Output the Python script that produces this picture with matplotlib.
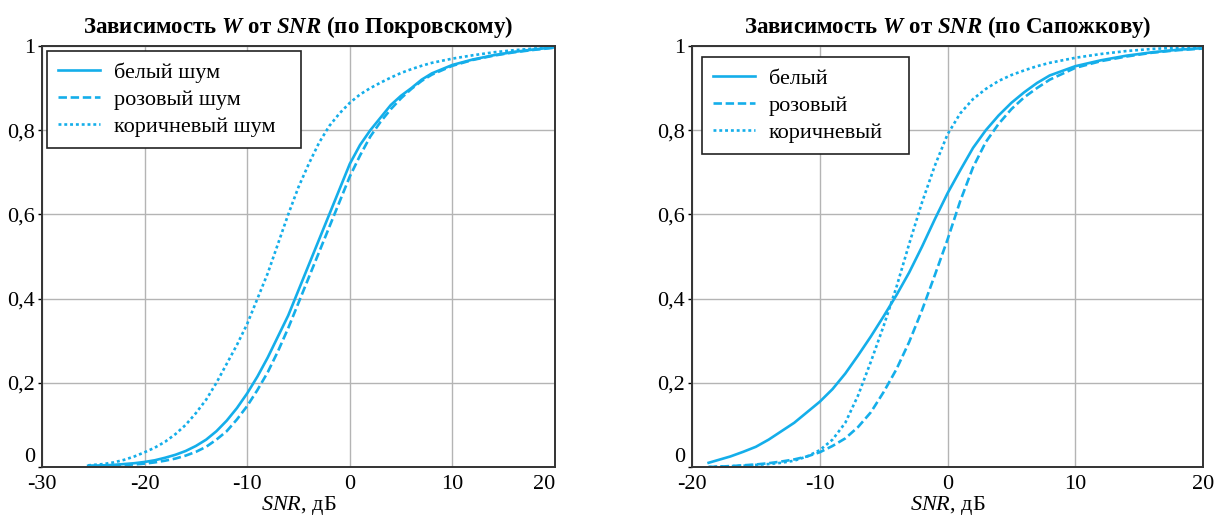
import numpy as np
import matplotlib
matplotlib.use("Agg")
import matplotlib.pyplot as plt
from matplotlib.ticker import FuncFormatter

plt.rcParams['font.family'] = ['Liberation Serif', 'DejaVu Serif']
plt.rcParams['mathtext.fontset'] = 'custom'
plt.rcParams['mathtext.rm'] = 'Liberation Serif'
plt.rcParams['mathtext.it'] = 'Liberation Serif:italic'
plt.rcParams['mathtext.bf'] = 'Liberation Serif:bold:italic'
plt.rcParams['axes.unicode_minus'] = False

# W(SNR) по Покровскому
snr_pokr = [-25.5, -24, -23, -22, -21, -20, -19, -18, -17, -16, -15, -14, -13, -12,
            -11, -10, -9, -8, -7, -6, -5, -4, -3, -2, -1, 0, 1, 2, 3, 4, 5, 6, 7, 8,
            10, 12, 14, 16, 18, 20]
white_pokr = [0.003, 0.004, 0.005, 0.007, 0.009, 0.012, 0.016, 0.022, 0.029, 0.038,
              0.05, 0.065, 0.085, 0.11, 0.14, 0.175, 0.215, 0.26, 0.31, 0.36,
              0.42, 0.48, 0.54, 0.60, 0.66, 0.72, 0.765, 0.80, 0.83, 0.86,
              0.882, 0.90, 0.92, 0.935, 0.955, 0.968, 0.978, 0.986, 0.992, 0.997]
pink_pokr = [0.002, 0.003, 0.004, 0.005, 0.006, 0.008, 0.011, 0.015, 0.02, 0.027,
             0.036, 0.048, 0.065, 0.085, 0.113, 0.145, 0.183, 0.225, 0.275, 0.33,
             0.39, 0.45, 0.51, 0.57, 0.63, 0.69, 0.74, 0.785, 0.82, 0.85,
             0.876, 0.898, 0.917, 0.932, 0.953, 0.967, 0.977, 0.985, 0.991, 0.996]
brown_pokr = [0.004, 0.007, 0.011, 0.017, 0.025, 0.035, 0.046, 0.06, 0.078, 0.10,
              0.128, 0.16, 0.20, 0.245, 0.29, 0.34, 0.40, 0.46, 0.53, 0.60,
              0.665, 0.72, 0.77, 0.81, 0.84, 0.865, 0.885, 0.90, 0.913, 0.925,
              0.936, 0.945, 0.953, 0.96, 0.97, 0.978, 0.985, 0.99, 0.994, 0.998]

# W(SNR) по Сапожкову
snr_sap = [-18.7, -17, -16, -15, -14, -13, -12, -11, -10, -9, -8, -7, -6, -5, -4,
           -3, -2, -1, 0, 1, 2, 3, 4, 5, 6, 7, 8, 10, 12, 14, 16, 18, 20]
white_sap = [0.01, 0.025, 0.036, 0.048, 0.065, 0.085, 0.105, 0.13, 0.155, 0.185,
             0.222, 0.265, 0.31, 0.358, 0.408, 0.462, 0.523, 0.588, 0.65, 0.705,
             0.758, 0.80, 0.835, 0.865, 0.89, 0.912, 0.93,
             0.952, 0.966, 0.977, 0.985, 0.991, 0.995]
pink_sap = [0.0, 0.002, 0.004, 0.006, 0.009, 0.013, 0.018, 0.025, 0.035, 0.05,
            0.068, 0.095, 0.13, 0.178, 0.232, 0.297, 0.372, 0.455, 0.54, 0.632,
            0.712, 0.772, 0.815, 0.85, 0.878, 0.9, 0.92,
            0.948, 0.964, 0.975, 0.984, 0.99, 0.994]
brown_sap = [0.0, 0.002, 0.003, 0.005, 0.007, 0.01, 0.015, 0.025, 0.04, 0.065,
             0.105, 0.17, 0.25, 0.335, 0.427, 0.53, 0.628, 0.715, 0.79, 0.84,
             0.874, 0.898, 0.917, 0.931, 0.942, 0.952, 0.96,
             0.972, 0.981, 0.988, 0.993, 0.996, 0.998]

labels_pokr = ['белый шум', 'розовый шум', 'коричневый шум']
labels_sap = ['белый', 'розовый', 'коричневый']

color = '#14aeea'
styles = ['-', (0, (3.2, 1.4)), (0, (1.1, 1.1))]


def yfmt(v, pos):
    if abs(v) < 1e-9:
        return '0'
    if abs(v - 1) < 1e-9:
        return '1'
    return ('%.1f' % v).replace('.', ',')


def setup(ax, xlim, xticks):
    ax.set_xlim(*xlim)
    ax.set_ylim(0, 1)
    ax.set_xticks(xticks)
    ax.set_yticks([0, 0.2, 0.4, 0.6, 0.8, 1.0])
    ax.yaxis.set_major_formatter(FuncFormatter(yfmt))
    ax.grid(True, color='#b4b4b4', lw=1)
    ax.set_axisbelow(True)
    for s in ax.spines.values():
        s.set_color('#333333')
        s.set_linewidth(1.4)
    ax.tick_params(axis='y', length=3, width=1, pad=2, labelsize=16)
    ax.tick_params(axis='x', length=0, pad=6, labelsize=16)
    ax.set_xlabel(r'$\mathit{SNR}$, дБ', fontsize=16, labelpad=0)
    # zero label sits on the axis line so it clears the x tick labels
    fig.canvas.draw()
    ax.get_yticklabels()[0].set_va('bottom')


fig = plt.figure(figsize=(12.17, 5.21), dpi=100)
ax1 = fig.add_axes([42 / 1217, 54 / 521, 513 / 1217, 421 / 521])
ax2 = fig.add_axes([692 / 1217, 54 / 521, 511 / 1217, 421 / 521])

for ys, ls, lab in zip([white_pokr, pink_pokr, brown_pokr], styles, labels_pokr):
    ax1.plot(snr_pokr, ys, color=color, lw=1.9, ls=ls, label=lab)
for ys, ls, lab in zip([white_sap, pink_sap, brown_sap], styles, labels_sap):
    ax2.plot(snr_sap, ys, color=color, lw=1.9, ls=ls, label=lab)

setup(ax1, (-30, 20), [-30, -20, -10, 0, 10, 20])
setup(ax2, (-20, 20), [-20, -10, 0, 10, 20])
ax1.get_xticklabels()[-1].set_ha('right')

ax1.set_title(r'Зависимость $\mathbf{W}$ от $\mathbf{SNR}$ (по Покровскому)',
              fontsize=16.5, fontweight='bold', pad=9)
ax2.set_title(r'Зависимость $\mathbf{W}$ от $\mathbf{SNR}$ (по Сапожкову)',
              fontsize=16.5, fontweight='bold', pad=9)

for ax, box in [(ax1, (0.0097, 0, 0.495, 0.988)), (ax2, (0.0196, 0, 0.405, 0.974))]:
    leg = ax.legend(loc='upper left', bbox_to_anchor=box, mode='expand',
                    borderaxespad=0, fontsize=16, fancybox=False, framealpha=1,
                    edgecolor='#222222', handlelength=1.9, handletextpad=0.6,
                    labelspacing=0.3, borderpad=0.5)
    leg.get_frame().set_linewidth(1.2)

fig.savefig('out.png', dpi=100)
